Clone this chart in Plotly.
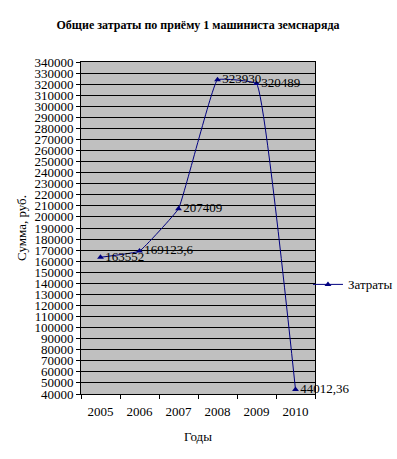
import plotly.graph_objects as go

years = ["2005", "2006", "2007", "2008", "2009", "2010"]
values = [163552, 169123.6, 207409, 323930, 320489, 44012.36]
labels = ["163552", "169123,6", "207409", "323930", "320489", "44012,36"]
y_ticks = list(range(40000, 340001, 10000))

font = "Liberation Serif, Times New Roman, serif"

fig = go.Figure()
fig.add_trace(go.Scatter(
    x=years, y=values, mode="lines+markers+text", name="Затраты",
    line=dict(color="#000080", width=1, shape="spline", smoothing=0.25),
    marker=dict(symbol="triangle-up", size=6, color="#000080"),
    text=labels, textposition="middle right",
    textfont=dict(family=font, size=13, color="black"),
    cliponaxis=False,
))

fig.update_layout(
    width=397, height=459,
    margin=dict(l=81, r=82, t=62, b=65, autoexpand=False),
    paper_bgcolor="white", plot_bgcolor="#C0C0C0",
    font=dict(family=font, size=13, color="black"),
    title=dict(text="<b>Общие затраты по приёму 1 машиниста земснаряда</b>",
               x=0.5, xref="paper", xanchor="center", y=1 - 25 / 459, yref="container",
               yanchor="middle",
               font=dict(family=font, size=12, color="black")),
    showlegend=True,
    legend=dict(x=0.97, xanchor="left", y=0.33, yanchor="middle",
                bgcolor="rgba(0,0,0,0)", font=dict(family=font, size=13),
                itemwidth=30),
    xaxis=dict(type="category", tickson="boundaries", ticks="outside", ticklen=4,
               tickcolor="black", showline=True, linecolor="black", linewidth=1,
               showgrid=False, range=[-0.5, 5.5], ticklabelstandoff=5,
               automargin=False, mirror=True,
               title=dict(text="Годы", standoff=14, font=dict(family=font, size=13))),
    yaxis=dict(range=[40000, 340000], tickvals=y_ticks, tickformat="d",
               ticks="outside", ticklen=4, tickcolor="black", automargin=False,
               showline=True, linecolor="black", linewidth=1, mirror=True,
               showgrid=True, gridcolor="black", gridwidth=1, zeroline=False,
               title=dict(text="Сумма, руб.", standoff=4, font=dict(family=font, size=13))),
)

fig.write_html("out.html", config={"displayModeBar": False},
               post_script="document.body.style.margin='0';")
